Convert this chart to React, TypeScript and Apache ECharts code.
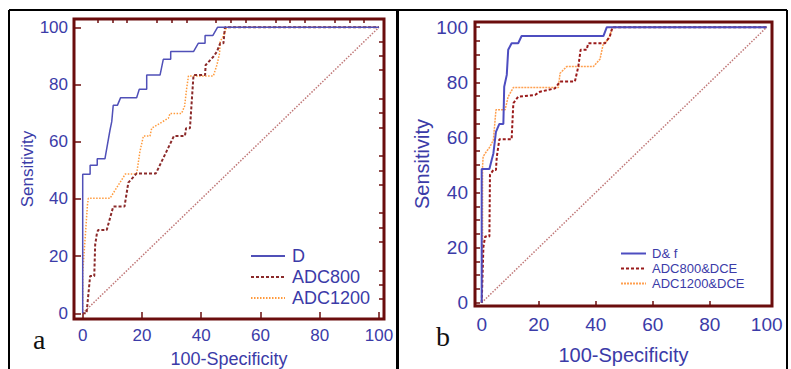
import React, { useEffect, useRef } from "react";
import * as echarts from "echarts";

const tickLabels = [0, 20, 40, 60, 80, 100];
const minorTicks = [5, 10, 15, 25, 30, 35, 45, 50, 55, 65, 70, 75, 85, 90, 95];
const allTicks = [0, 5, 10, 15, 20, 25, 30, 35, 40, 45, 50, 55, 60, 65, 70, 75, 80, 85, 90, 95, 100];
const bottomTicksB = [20, 40, 60, 80];

const diagonal = [[0, 0], [100, 100]];

const namesA = ["D", "ADC800", "ADC1200"];
const namesB = ["D& f", "ADC800&DCE", "ADC1200&DCE"];

const rocD = [[0, 0], [0, 48.6], [2.5, 48.6], [2.5, 51.8], [4.9, 51.8], [4.9, 54], [7.5, 54], [9.2, 64], [9.8, 67], [10.3, 72.7], [11.7, 72.7], [12.8, 75.4], [18.2, 75.4], [19.1, 78.3], [21.6, 78.3], [21.6, 83.3], [26.1, 83.3], [27.2, 88.8], [29.7, 88.8], [29.7, 91.5], [37.4, 91.5], [39, 94.4], [41.3, 94.4], [41.3, 97.1], [43.9, 97.1], [45.5, 100], [100, 100]];
const rocADC800 = [[0, 0], [1.3, 0], [2.5, 13], [3.9, 13], [4.2, 23.9], [4.8, 28], [5.2, 29.1], [8.1, 29.1], [10.3, 37.3], [14.1, 37.3], [15.4, 45.7], [18.2, 48.9], [24.7, 48.9], [30.8, 62], [34.5, 62], [34.9, 64.7], [36.2, 64.7], [37.4, 83.3], [41.3, 83.3], [41.5, 86.8], [44.1, 89.7], [45.3, 91.5], [46.4, 94.4], [47.5, 94.4], [48, 100], [100, 100]];
const rocADC1200 = [[0, 0], [0, 14], [1.6, 37.9], [1.9, 40.2], [9.2, 40.2], [14.4, 48.7], [18.2, 48.7], [19.3, 56.5], [20.5, 62], [22.7, 62], [23.3, 64.7], [28.9, 68.2], [29.5, 69.9], [33.4, 69.9], [34.4, 72.5], [34.6, 72.5], [35.1, 78.7], [35.7, 83], [44.1, 83], [45.3, 86.8], [46.2, 90.9], [46.4, 95], [47.5, 97], [48.6, 100], [100, 100]];

const rocDf = [[0, 0], [0, 20.3], [0, 48.5], [2.7, 48.5], [3.5, 51.8], [4.1, 54.2], [5, 62], [6.2, 64.9], [7.6, 64.9], [7.9, 78.4], [8.8, 82.7], [9.3, 91.8], [10.5, 94.2], [12.8, 94.2], [14, 96.8], [42.7, 96.8], [43.9, 100], [100, 100]];
const rocADC800DCE = [[0, 0], [0.6, 20.3], [1.2, 24], [2.7, 24], [2.9, 46.4], [4.1, 48.2], [5, 48.2], [5.3, 53], [6.2, 59.3], [10.5, 59.3], [11.1, 72.4], [12.8, 74.8], [18.7, 75.4], [20.5, 76.6], [25.7, 77.8], [27.5, 80.3], [32.7, 80.3], [33.9, 85.7], [34.7, 91.8], [36.8, 91.8], [37.4, 94.2], [43.3, 94.2], [45, 96.8], [45.6, 99], [46, 100], [100, 100]];
const rocADC1200DCE = [[0, 0], [0.3, 20], [0.3, 49.4], [0.5, 53], [1.2, 54.2], [2.9, 56.6], [4.1, 59.1], [5, 70], [8.2, 70], [9.3, 74.8], [11.1, 78.1], [26.9, 78.1], [27.5, 83.3], [29.8, 85.7], [39.2, 85.7], [41.5, 88.4], [42.7, 94.2], [44.4, 95.4], [45.6, 99], [46, 100], [100, 100]];

const FONT = "Liberation Sans, Arial, sans-serif";
const BLUE = "#3b3ba8";
const FRAME = "#6b0d0d";

function axis(opts: any) {
  const { gridIndex, min, max, labels, ticks, tickLen, fontSize, margin, name, nameGap, nameSize } = opts;
  return {
    type: "value",
    gridIndex,
    min,
    max,
    name: name || "",
    nameLocation: "middle",
    nameGap: nameGap || 0,
    nameTextStyle: { color: BLUE, fontFamily: FONT, fontSize: nameSize || 18 },
    axisLine: { show: false, onZero: false },
    splitLine: { show: false },
    axisTick: {
      show: ticks.length > 0,
      inside: true,
      length: tickLen,
      customValues: ticks,
      lineStyle: { color: FRAME, width: 1.5 },
    },
    axisLabel: labels
      ? { show: true, customValues: labels, color: BLUE, fontFamily: FONT, fontSize, margin }
      : { show: false },
  };
}

export default function App() {
  const ref = useRef<HTMLDivElement>(null);
  useEffect(() => {
    if (!ref.current) return;
    const chart = echarts.init(ref.current, undefined, { renderer: "svg" });
    const line = (name: string, data: number[][], xi: number, yi: number, color: string, width: number, type: any) => ({
      type: "line",
      name,
      data,
      xAxisIndex: xi,
      yAxisIndex: yi,
      symbol: "none",
      showSymbol: false,
      lineStyle: { color, width, type },
      itemStyle: { color },
      z: 3,
    });
    chart.setOption({
      animation: false,
      backgroundColor: "#ffffff",
      grid: [
        { left: 74, top: 19, width: 310, height: 300, show: true, borderColor: FRAME, borderWidth: 3, backgroundColor: "transparent", outerBoundsMode: "none", containLabel: false },
        { left: 475, top: 22, width: 297, height: 284, show: true, borderColor: FRAME, borderWidth: 3, backgroundColor: "transparent", outerBoundsMode: "none", containLabel: false },
      ],
      xAxis: [
        axis({ gridIndex: 0, min: -2.94, max: 101.7, labels: tickLabels, ticks: tickLabels, tickLen: 7, fontSize: 17, margin: 8, name: "100-Specificity", nameGap: 31, nameSize: 18 }),
        axis({ gridIndex: 0, min: -2.94, max: 101.7, labels: null, ticks: minorTicks, tickLen: 4 }),
        axis({ gridIndex: 1, min: -2.35, max: 101.86, labels: tickLabels, ticks: bottomTicksB, tickLen: 5, fontSize: 19, margin: 9, name: "100-Specificity", nameGap: 39, nameSize: 20 }),
      ],
      yAxis: [
        axis({ gridIndex: 0, min: -2.0, max: 102.9, labels: tickLabels, ticks: tickLabels, tickLen: 7, fontSize: 17, margin: 6, name: "Sensitivity", nameGap: 36, nameSize: 17 }),
        axis({ gridIndex: 0, min: -2.0, max: 102.9, labels: null, ticks: minorTicks, tickLen: 5 }),
        axis({ gridIndex: 1, min: -1.2, max: 101.9, labels: tickLabels, ticks: allTicks, tickLen: 5, fontSize: 19, margin: 7, name: "Sensitivity", nameGap: 42, nameSize: 20 }),
      ],
      legend: [
        {
          data: namesA,
          orient: "vertical",
          left: 245,
          top: 242,
          itemWidth: 34,
          itemHeight: 2,
          itemGap: 3,
          itemStyle: { opacity: 0 },
          textStyle: { color: BLUE, fontFamily: FONT, fontSize: 18, padding: [0, 0, 0, 2] },
        },
        {
          data: namesB,
          orient: "vertical",
          left: 615,
          top: 242,
          itemWidth: 25,
          itemHeight: 2,
          itemGap: 2,
          itemStyle: { opacity: 0 },
          textStyle: { color: BLUE, fontFamily: FONT, fontSize: 13, padding: [0, 0, 0, 1] },
        },
      ],
      series: [
        { ...line("diagA", diagonal, 0, 0, "#c07878", 1.5, [1.5, 1.5]), z: 2 },
        line(namesA[2], rocADC1200, 0, 0, "#ff9a3c", 1.5, [1.5, 1.5]),
        line(namesA[1], rocADC800, 0, 0, "#8b2a2a", 2, [3, 2]),
        line(namesA[0], rocD, 0, 0, "#5050b8", 1.5, "solid"),
        { ...line("diagB", diagonal, 2, 2, "#c07878", 1.5, [1.5, 1.5]), z: 2 },
        line(namesB[2], rocADC1200DCE, 2, 2, "#ffa050", 1.5, [2, 1]),
        line(namesB[1], rocADC800DCE, 2, 2, "#9a1a1a", 2, [3, 2]),
        line(namesB[0], rocDf, 2, 2, "#4d4dc0", 2, "solid"),
      ],
      graphic: [
        { type: "line", shape: { x1: 9, y1: 10, x2: 787, y2: 10 }, style: { stroke: "#000", lineWidth: 2 } },
        { type: "line", shape: { x1: 9, y1: 10, x2: 9, y2: 369 }, style: { stroke: "#000", lineWidth: 2 } },
        { type: "line", shape: { x1: 397.5, y1: 10, x2: 397.5, y2: 369 }, style: { stroke: "#000", lineWidth: 3 } },
        { type: "line", shape: { x1: 787, y1: 10, x2: 787, y2: 369 }, style: { stroke: "#000", lineWidth: 2 } },
        { type: "text", left: 33, top: 325, style: { text: "a", font: "28px 'Liberation Serif', serif", fill: "#111" } },
        { type: "text", left: 436, top: 322, style: { text: "b", font: "28px 'Liberation Serif', serif", fill: "#111" } },
      ],
    });
    return () => chart.dispose();
  }, []);
  return <div ref={ref} style={{ position: "absolute", left: 0, top: 0, width: 791, height: 369 }} />;
}
